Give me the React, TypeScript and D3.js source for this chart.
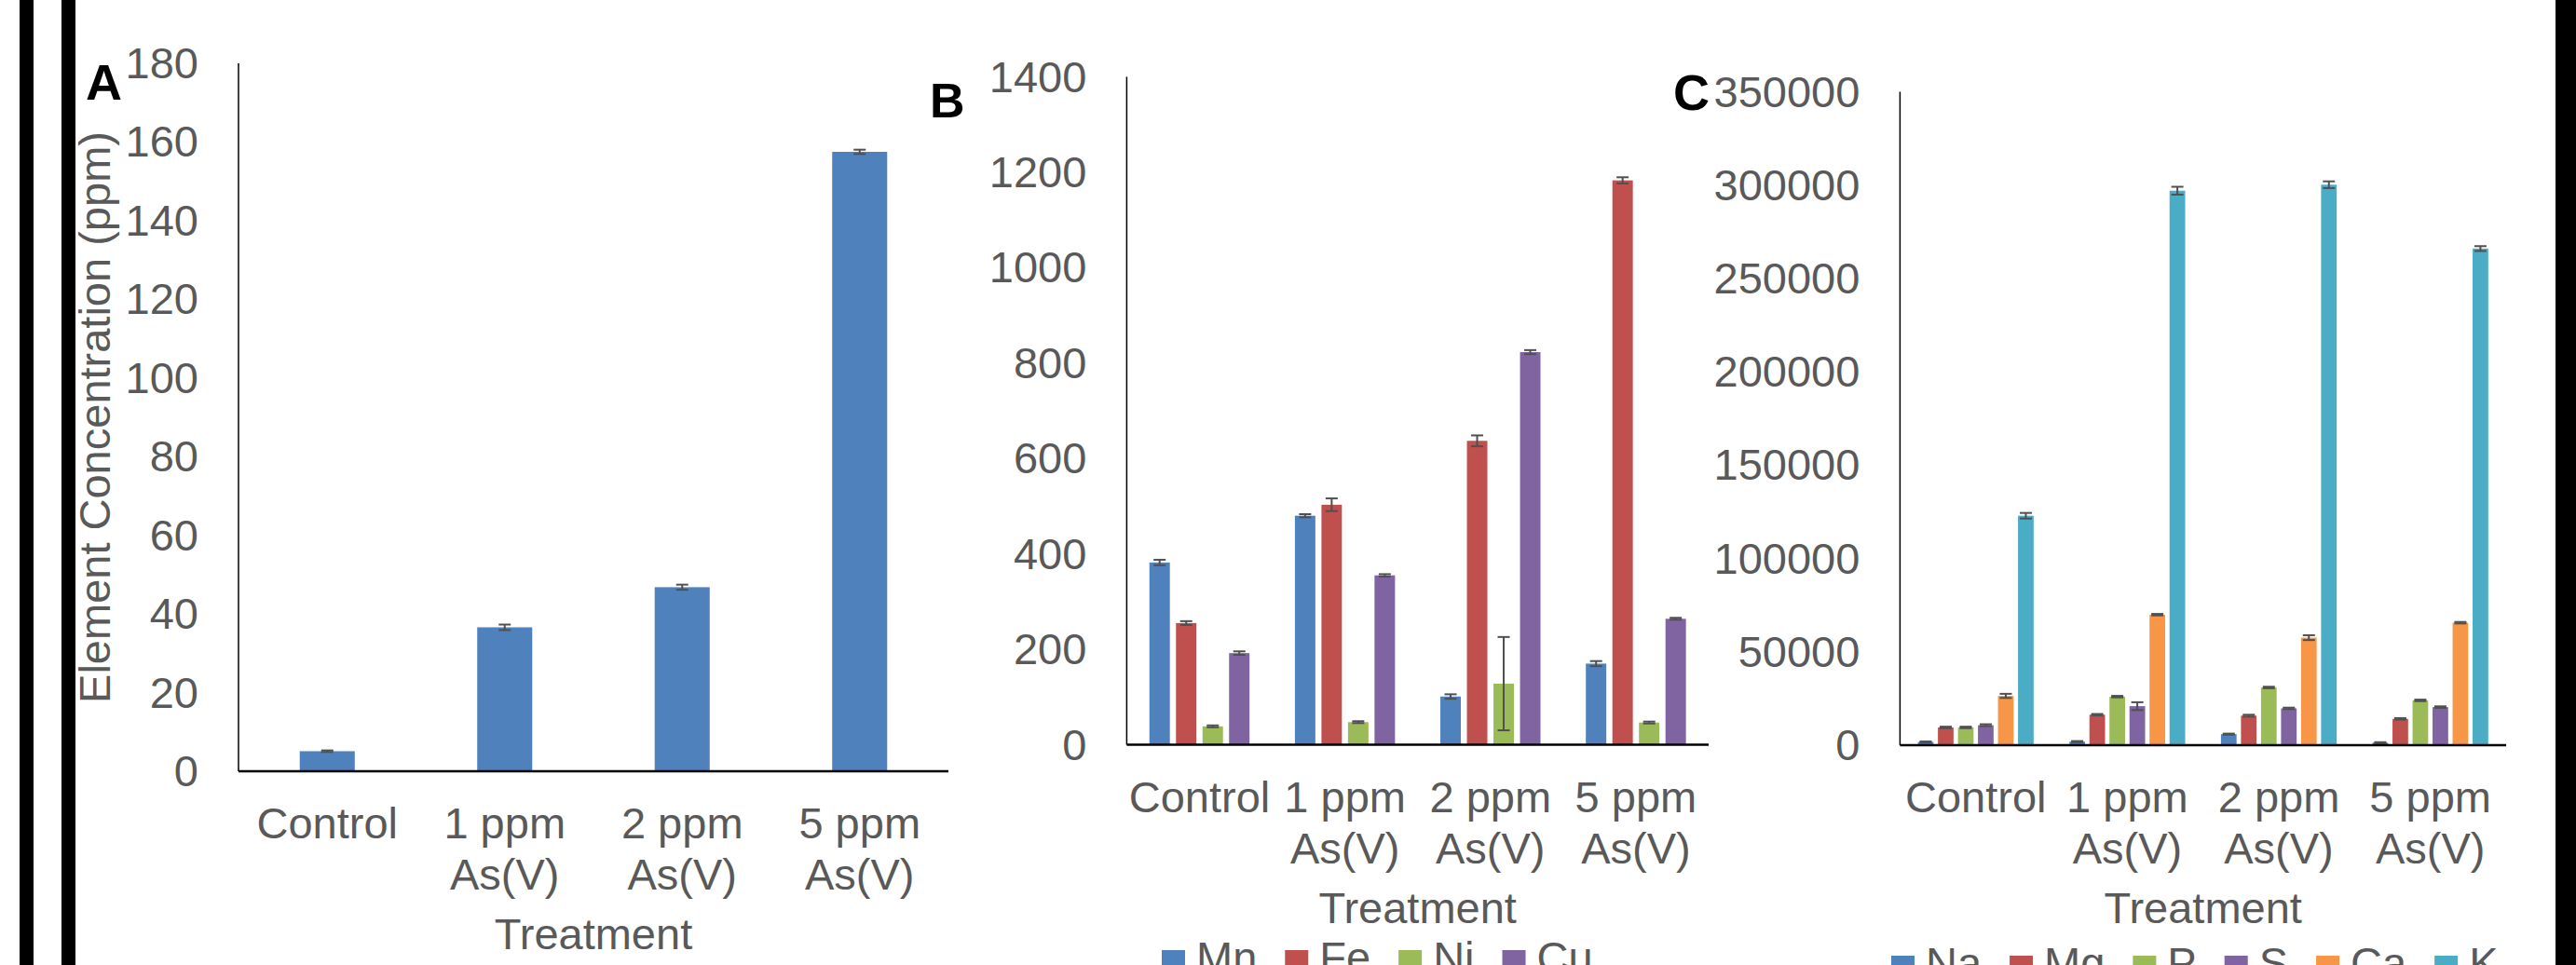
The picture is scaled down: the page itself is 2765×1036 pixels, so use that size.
import React from "react";
import * as d3 from "d3";

// ---------- data ----------
const categories = ["Control", "1 ppm As(V)", "2 ppm As(V)", "5 ppm As(V)"];
const categoryLines = [["Control"], ["1 ppm", "As(V)"], ["2 ppm", "As(V)"], ["5 ppm", "As(V)"]];

// Panel A : As concentration
const seriesA = ["As"];
const asValues = [5.1, 36.6, 46.8, 157.5];
const asErrors = [0.2, 0.7, 0.65, 0.55];
const ticksA = [0, 20, 40, 60, 80, 100, 120, 140, 160, 180];

// Panel B : micro nutrients
const seriesB = ["Mn", "Fe", "Ni", "Cu"];
const mnValues = [382, 480, 101, 170];
const feValues = [255, 503, 637, 1183];
const niValues = [38.5, 47.3, 128, 46.5];
const cuValues = [192, 355, 823, 264];
const mnErrors = [5.7, 3.3, 4.7, 5.3];
const feErrors = [4, 13.3, 11.4, 6.5];
const niErrors = [2, 2, 97.8, 2];
const cuErrors = [3.7, 2.5, 4.2, 2];
const ticksB = [0, 200, 400, 600, 800, 1000, 1200, 1400];

// Panel C : macro nutrients
const seriesC = ["Na", "Mg", "P", "S", "Ca", "K"];
const naValues = [1700, 1900, 5900, 1300];
const mgValues = [9500, 16300, 15800, 14100];
const pValues = [9500, 26000, 30900, 24000];
const sValues = [10700, 20900, 19700, 20400];
const caValues = [26400, 69900, 57600, 65600];
const kValues = [122900, 297000, 300200, 266000];
const naErrors = [300, 300, 300, 300];
const mgErrors = [400, 400, 500, 400];
const pErrors = [400, 400, 400, 400];
const sErrors = [500, 2100, 400, 400];
const caErrors = [1100, 400, 1300, 400];
const kErrors = [1500, 2100, 1800, 1300];
const ticksC = [0, 50000, 100000, 150000, 200000, 250000, 300000, 350000];

const COLORS = ["#4F81BD", "#C0504D", "#9BBB59", "#8064A2", "#F79646", "#4BACC6"];
const colorsA = [COLORS[0]];
const colorsB = [COLORS[0], COLORS[1], COLORS[2], COLORS[3]];
const colorsC = COLORS;

// ---------- styling ----------
const FONT = "'Liberation Sans', Arial, sans-serif";
const FS = 47;
const GREY = "#595959";

let _ctx: CanvasRenderingContext2D | null = null;
function textWidth(t: string, size: number) {
  if (!_ctx) {
    const c = document.createElement("canvas");
    _ctx = c.getContext("2d");
  }
  if (!_ctx) return t.length * size * 0.55;
  _ctx.font = `${size}px 'Liberation Sans', Arial, sans-serif`;
  return _ctx.measureText(t).width;
}

type PanelProps = {
  left: number;
  right: number;
  top: number;
  base: number;
  max: number;
  ticks: number[];
  series: string[];
  values: number[][]; // [series][category]
  errors: number[][];
  colors: string[];
  pad: number;
  innerPad: number;
  legend?: { x: number; baseline: number };
  yTitle?: { x: number };
};

function Panel(p: PanelProps) {
  const x0 = d3
    .scaleBand<string>()
    .domain(categories)
    .range([p.left, p.right])
    .paddingInner(p.pad)
    .paddingOuter(p.pad / 2);
  const x1 = d3
    .scaleBand<string>()
    .domain(p.series)
    .range([0, x0.bandwidth()])
    .paddingInner(p.innerPad)
    .paddingOuter(p.innerPad / 2);
  const y = d3.scaleLinear().domain([0, p.max]).range([p.base, p.top]);
  const cap = 13;

  const bars: React.ReactNode[] = [];
  const errs: React.ReactNode[] = [];
  p.series.forEach((s, si) => {
    categories.forEach((c, ci) => {
      const v = p.values[si][ci];
      const e = p.errors[si][ci];
      const bx = (x0(c) as number) + (x1(s) as number);
      const bw = x1.bandwidth();
      bars.push(
        <rect
          key={`b-${s}-${c}`}
          x={bx}
          y={y(v)}
          width={bw}
          height={y(0) - y(v)}
          fill={p.colors[si]}
        />
      );
      const cx = bx + bw / 2;
      const yHi = y(v + e);
      const yLo = y(v - e);
      errs.push(
        <g key={`e-${s}-${c}`} stroke="#505050" strokeWidth={2}>
          <line x1={cx} x2={cx} y1={yHi} y2={yLo} />
          <line x1={cx - cap / 2} x2={cx + cap / 2} y1={yHi} y2={yHi} />
          <line x1={cx - cap / 2} x2={cx + cap / 2} y1={yLo} y2={yLo} />
        </g>
      );
    });
  });

  // legend layout
  const legendItems: React.ReactNode[] = [];
  if (p.legend) {
    let lx = p.legend.x;
    const sq = 25;
    p.series.forEach((s, si) => {
      legendItems.push(
        <g key={`l-${s}`}>
          <rect x={lx} y={p.legend!.baseline - 24} width={sq} height={sq} fill={p.colors[si]} />
          <text x={lx + sq + 12} y={p.legend!.baseline} fontSize={FS} fill={GREY} fontFamily={FONT}>
            {s}
          </text>
        </g>
      );
      lx += sq + 12 + textWidth(s, FS) + 30;
    });
  }

  return (
    <g>
      {/* y tick labels */}
      {p.ticks.map((t) => (
        <text
          key={`t-${t}`}
          x={p.left - 43}
          y={y(t) + 16}
          textAnchor="end"
          fontSize={FS}
          fill={GREY}
          fontFamily={FONT}
        >
          {t}
        </text>
      ))}
      {bars}
      {errs}
      {/* axes */}
      <line x1={p.left} x2={p.left} y1={p.top} y2={p.base} stroke="#000" strokeWidth={1.5} />
      <line x1={p.left} x2={p.right} y1={p.base} y2={p.base} stroke="#000" strokeWidth={2.5} />
      {/* category labels */}
      {categories.map((c, ci) => {
        const cx = (x0(c) as number) + x0.bandwidth() / 2;
        return (
          <text key={`c-${c}`} textAnchor="middle" fontSize={FS} fill={GREY} fontFamily={FONT}>
            {categoryLines[ci].map((ln, li) => (
              <tspan key={li} x={cx} y={p.base + 72 + li * 55}>
                {ln}
              </tspan>
            ))}
          </text>
        );
      })}
      <text
        x={(p.left + p.right) / 2}
        y={p.base + 191}
        textAnchor="middle"
        fontSize={FS}
        fill={GREY}
        fontFamily={FONT}
      >
        Treatment
      </text>
      {p.yTitle && (
        <text
          transform={`translate(${p.yTitle.x},${(p.top + p.base) / 2}) rotate(-90)`}
          textAnchor="middle"
          fontSize={FS}
          fill={GREY}
          fontFamily={FONT}
        >
          Element Concentration (ppm)
        </text>
      )}
      {legendItems}
    </g>
  );
}

export default function App() {
  return (
    <div style={{ position: "absolute", left: 0, top: 0, width: 2765, height: 1036, overflow: "hidden" }}>
      <svg width={2765} height={1036} viewBox="0 0 2765 1036" style={{ display: "block", background: "#fff" }}>
        <rect x={0} y={0} width={2765} height={1036} fill="#fff" />
        {/* frame bars */}
        <rect x={21} y={0} width={15} height={1036} fill="#000" />
        <rect x={66} y={0} width={15} height={1036} fill="#000" />
        <rect x={2743} y={0} width={22} height={1036} fill="#000" />

        <Panel
          left={256}
          right={1018}
          top={68}
          base={828}
          max={180}
          ticks={ticksA}
          series={seriesA}
          values={[asValues]}
          errors={[asErrors]}
          colors={colorsA}
          pad={0.69}
          innerPad={0}
          yTitle={{ x: 118 }}
        />
        <Panel
          left={1209.4}
          right={1834}
          top={82.5}
          base={799.5}
          max={1400}
          ticks={ticksB}
          series={seriesB}
          values={[mnValues, feValues, niValues, cuValues]}
          errors={[mnErrors, feErrors, niErrors, cuErrors]}
          colors={colorsB}
          pad={0.27}
          innerPad={0.23}
          legend={{ x: 1247, baseline: 1044 }}
        />
        <Panel
          left={2039.4}
          right={2690}
          top={98.5}
          base={800}
          max={350000}
          ticks={ticksC}
          series={seriesC}
          values={[naValues, mgValues, pValues, sValues, caValues, kValues]}
          errors={[naErrors, mgErrors, pErrors, sErrors, caErrors, kErrors]}
          colors={colorsC}
          pad={0.207}
          innerPad={0.22}
          legend={{ x: 2030, baseline: 1050 }}
        />

        {/* panel letters */}
        <text x={92} y={107} fontSize={54} fontWeight="bold" fontFamily={FONT} fill="#000">
          A
        </text>
        <text x={998} y={126} fontSize={52} fontWeight="bold" fontFamily={FONT} fill="#000">
          B
        </text>
        <text x={1796} y={118} fontSize={54} fontWeight="bold" fontFamily={FONT} fill="#000">
          C
        </text>
      </svg>
    </div>
  );
}
